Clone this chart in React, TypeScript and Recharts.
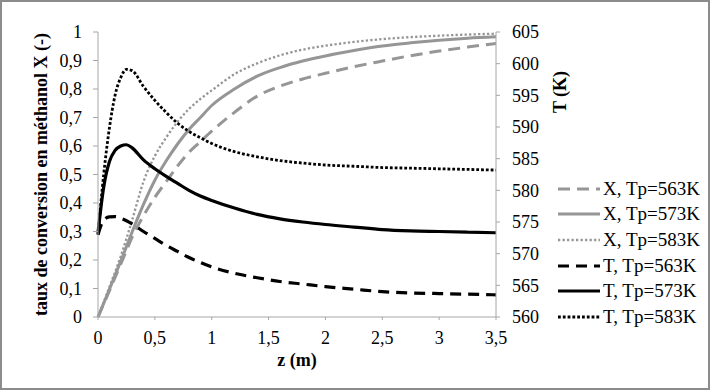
import React from 'react';
import { LineChart, Line, XAxis, YAxis, Legend } from 'recharts';

const zValues = [0, 0.05, 0.1, 0.15, 0.2, 0.25, 0.3, 0.4, 0.5, 0.6, 0.7, 0.8, 0.9, 1.0, 1.2, 1.4, 1.6, 1.8, 2.0, 2.25, 2.5, 2.75, 3.0, 3.25, 3.5];

const x563 = [0, 0.046, 0.092, 0.139, 0.186, 0.233, 0.28, 0.355, 0.42, 0.475, 0.53, 0.578, 0.615, 0.652, 0.718, 0.775, 0.81, 0.835, 0.855, 0.878, 0.898, 0.917, 0.933, 0.947, 0.96];
const x573 = [0, 0.048, 0.097, 0.146, 0.196, 0.247, 0.298, 0.395, 0.48, 0.548, 0.607, 0.658, 0.7, 0.742, 0.8, 0.845, 0.875, 0.898, 0.916, 0.935, 0.951, 0.962, 0.971, 0.978, 0.983];
const x583 = [0, 0.052, 0.105, 0.158, 0.213, 0.275, 0.34, 0.475, 0.565, 0.63, 0.685, 0.73, 0.765, 0.795, 0.852, 0.89, 0.918, 0.938, 0.952, 0.965, 0.975, 0.982, 0.987, 0.991, 0.994];
const t563 = [573.0, 575.3, 575.8, 575.85, 575.6, 575.2, 574.7, 573.5, 572.4, 571.3, 570.35, 569.4, 568.6, 567.9, 566.9, 566.2, 565.6, 565.2, 564.8, 564.4, 564.0, 563.8, 563.7, 563.6, 563.5];
const t573 = [573.3, 580.5, 584.5, 586.3, 587.0, 587.2, 586.7, 584.8, 583.4, 582.2, 581.1, 580.0, 579.1, 578.4, 577.2, 576.2, 575.5, 575.0, 574.6, 574.2, 573.8, 573.6, 573.5, 573.4, 573.3];
const t583 = [573.0, 582.5, 589.8, 595.0, 597.8, 599.1, 598.9, 596.4, 594.2, 592.3, 590.6, 589.3, 588.3, 587.4, 586.1, 585.3, 584.7, 584.3, 584.0, 583.8, 583.6, 583.5, 583.4, 583.3, 583.2];

const zTicks = [0, 0.5, 1, 1.5, 2, 2.5, 3, 3.5];
const xTicks = [0, 0.1, 0.2, 0.3, 0.4, 0.5, 0.6, 0.7, 0.8, 0.9, 1];
const tTicks = [560, 565, 570, 575, 580, 585, 590, 595, 600, 605];

const data = zValues.map((z, i) => ({
  z,
  x563: x563[i],
  x573: x573[i],
  x583: x583[i],
  t563: t563[i],
  t573: t573[i],
  t583: t583[i],
}));

const GRAY = '#969696';
const BLACK = '#000000';
const AXIS = '#a6a6a6';
const FONT = 'Liberation Serif, DejaVu Serif, Tinos, serif';

const series = [
  { key: 'x563', name: 'X, Tp=563K', axis: 'left', color: GRAY, width: 3, dash: '12 7' },
  { key: 'x573', name: 'X, Tp=573K', axis: 'left', color: GRAY, width: 3, dash: undefined },
  { key: 'x583', name: 'X, Tp=583K', axis: 'left', color: GRAY, width: 2.3, dash: '2.3 2.2' },
  { key: 't563', name: 'T, Tp=563K', axis: 'right', color: BLACK, width: 3.2, dash: '11 7' },
  { key: 't573', name: 'T, Tp=573K', axis: 'right', color: BLACK, width: 3.2, dash: undefined },
  { key: 't583', name: 'T, Tp=583K', axis: 'right', color: BLACK, width: 2.8, dash: '2.8 2' },
];

const comma = (v: number) => String(v).replace('.', ',');

const tickStyle = { fill: '#000', fontSize: 18, fontFamily: FONT, style: { fontFamily: FONT } };

const LeftTitle = (props: any) => {
  const vb = props.viewBox;
  const x = vb.x + 9;
  const y = vb.y + vb.height / 2;
  return (
    <text x={x} y={y} transform={`rotate(-90 ${x} ${y})`} textAnchor="middle" style={{ fontFamily: FONT }} fontSize={18} fontWeight="bold" fill="#000">
      taux de conversion en méthanol X (-)
    </text>
  );
};

const RightTitle = (props: any) => {
  const vb = props.viewBox;
  const x = vb.x + 70;
  const y = vb.y + 60;
  return (
    <text x={x} y={y} transform={`rotate(-90 ${x} ${y})`} textAnchor="middle" style={{ fontFamily: FONT }} fontSize={18} fontWeight="bold" fill="#000">
      T (K)
    </text>
  );
};

const BottomTitle = (props: any) => {
  const vb = props.viewBox;
  const x = vb.x + vb.width / 2;
  const y = vb.y + 49;
  return (
    <text x={x} y={y} textAnchor="middle" style={{ fontFamily: FONT }} fontSize={18} fontWeight="bold" fill="#000">
      z (m)
    </text>
  );
};

const LegendContent = () => (
  <div style={{ fontFamily: FONT, fontSize: 19, color: '#000' }}>
    {series.map((s) => (
      <div key={s.key} style={{ height: 25.6, display: 'flex', alignItems: 'center', whiteSpace: 'nowrap' }}>
        <svg width={44} height={12} style={{ display: 'block' }}>
          <line x1={0} y1={6} x2={42} y2={6} stroke={s.color} strokeWidth={s.width} strokeDasharray={s.dash} />
        </svg>
        <span style={{ marginLeft: 1 }}>{s.name}</span>
      </div>
    ))}
  </div>
);

export default function App() {
  return (
    <div style={{ position: 'absolute', left: 0, top: 0, width: 710, height: 390, background: '#fff', fontFamily: FONT }}>
      <LineChart width={710} height={390} data={data} margin={{ top: 32, right: 14, bottom: 43, left: 38 }} style={{ fontFamily: FONT }}>
        <XAxis
          type="number"
          dataKey="z"
          domain={[0, 3.5]}
          ticks={zTicks}
          tickFormatter={comma}
          interval={0}
          height={30}
          tickSize={3}
          tickMargin={11}
          axisLine={{ stroke: AXIS, strokeWidth: 1 }}
          tickLine={{ stroke: AXIS }}
          tick={tickStyle}
          label={BottomTitle}
        />
        <YAxis
          yAxisId="left"
          orientation="left"
          type="number"
          domain={[0, 1]}
          ticks={xTicks}
          tickFormatter={comma}
          interval={0}
          width={60}
          tickSize={5}
          tickMargin={11}
          axisLine={{ stroke: AXIS, strokeWidth: 1 }}
          tickLine={{ stroke: AXIS }}
          tick={tickStyle}
          label={LeftTitle}
        />
        <YAxis
          yAxisId="right"
          orientation="right"
          type="number"
          domain={[560, 605]}
          ticks={tTicks}
          interval={0}
          width={50}
          tickSize={4}
          tickMargin={12}
          axisLine={{ stroke: AXIS, strokeWidth: 1 }}
          tickLine={{ stroke: AXIS }}
          tick={tickStyle}
          label={RightTitle}
        />
        <Legend
          layout="vertical"
          align="right"
          verticalAlign="middle"
          content={LegendContent}
          wrapperStyle={{ left: 558, top: 176, width: 150 }}
        />
        {series.map((s) => (
          <Line
            key={s.key}
            yAxisId={s.axis}
            type="monotone"
            dataKey={s.key}
            name={s.name}
            stroke={s.color}
            strokeWidth={s.width}
            strokeDasharray={s.dash}
            dot={false}
            activeDot={false}
            isAnimationActive={false}
          />
        ))}
      </LineChart>
      <div style={{ position: 'absolute', left: 0, top: 0, width: 710, height: 390, boxSizing: 'border-box', border: '2px solid #8c8c8c', pointerEvents: 'none' }} />
    </div>
  );
}
